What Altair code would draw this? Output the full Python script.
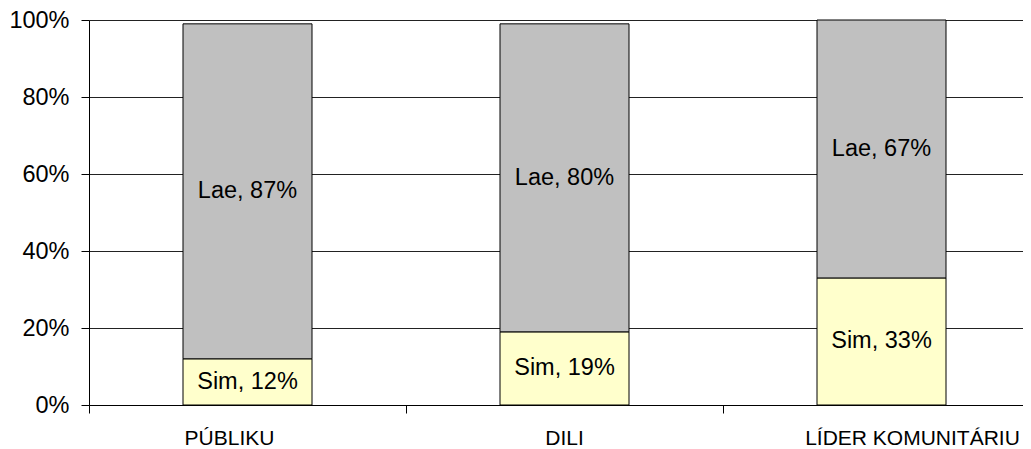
import altair as alt
import pandas as pd

categories = ["PÚBLIKU", "DILI", "LÍDER KOMUNITÁRIU"]
series = ["Sim", "Lae"]
sim = [12, 19, 33]
lae = [87, 80, 67]
y_ticks = [0, 20, 40, 60, 80, 100]

rows = []
for i, c in enumerate(categories):
    rows.append({"cat": c, "series": "Sim", "ord": 0, "value": sim[i]})
    rows.append({"cat": c, "series": "Lae", "ord": 1, "value": lae[i]})
df = pd.DataFrame(rows)

FONT = "Liberation Sans"

base = alt.Chart(df).transform_stack(
    stack="value", as_=["y0", "y1"], groupby=["cat"], sort=[alt.SortField("ord")]
).transform_calculate(
    mid="(datum.y0 + datum.y1) / 2",
    label="datum.series + ', ' + datum.value + '%'",
)

xenc = alt.X(
    "cat:N",
    sort=categories,
    scale=alt.Scale(paddingInner=0, paddingOuter=0, range=[0, 951]),
    axis=alt.Axis(
        title=None, labelAngle=0, bandPosition=0, tickSize=8, tickColor="black",
        domainColor="black", labelFontSize=21, labelFont=FONT, labelColor="black",
        labelPadding=14, grid=False, labelAlign="center", labelLimit=0,
        labelOffset={
            "condition": [
                {"test": "datum.value === 'PÚBLIKU'", "value": -18},
                {"test": "datum.value === 'LÍDER KOMUNITÁRIU'", "value": 31},
            ],
            "value": 0,
        },
    ),
)

bars = base.mark_bar(size=129, stroke="black", strokeWidth=1).encode(
    x=xenc,
    y=alt.Y(
        "y0:Q",
        scale=alt.Scale(domain=[0, 100], nice=False),
        axis=alt.Axis(
            title=None, values=y_ticks, labelExpr="datum.value + '%'", tickSize=8,
            tickColor="black", domainColor="black", gridColor="#222222", grid=True,
            labelFontSize=23.5, labelFont=FONT, labelColor="black", labelPadding=12,
        ),
    ),
    y2="y1:Q",
    color=alt.Color(
        "series:N",
        scale=alt.Scale(domain=series, range=["#FFFFCC", "#C0C0C0"]),
        legend=None,
    ),
)

text = base.mark_text(fontSize=23.5, font=FONT, color="black").encode(
    x=alt.X("cat:N", sort=categories),
    y=alt.Y("mid:Q"),
    text="label:N",
)

chart = (bars + text).properties(
    width=934, height=385,
    autosize=alt.AutoSizeParams(type="none"),
    padding={"left": 81, "top": 12, "right": 0, "bottom": 44},
).configure_view(stroke=None)

chart.save("out.html", embed_options={"renderer": "svg", "actions": False})
